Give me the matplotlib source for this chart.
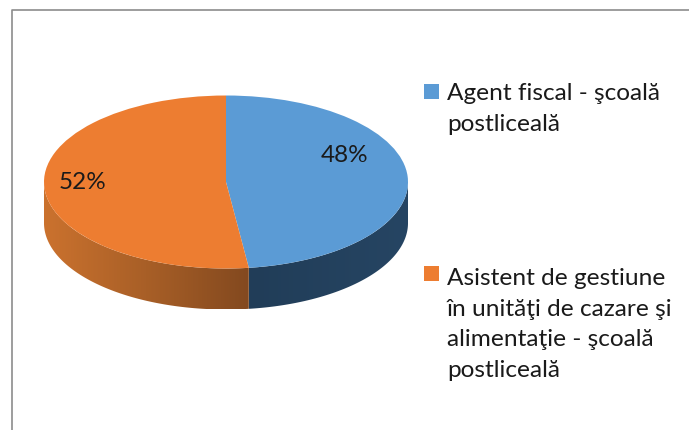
import numpy as np
import matplotlib
matplotlib.use("Agg")
import matplotlib.pyplot as plt
from matplotlib.colors import LinearSegmentedColormap
from matplotlib.patches import Polygon, Rectangle

plt.rcParams['font.family'] = ['Lato', 'DejaVu Sans']

# data
values = [48, 52]
pct_labels = ["48%", "52%"]
legend_labels = ["Agent fiscal - şcoală\npostliceală",
                 "Asistent de gestiune\nîn unităţi de cazare şi\nalimentaţie - şcoală\npostliceală"]
colors = ["#5B9BD5", "#ED7D31"]

W, H = 689, 430
CX, CY, RX, RY = 226, 182, 182, 86.5
DEPTH = 41 / RY


def px(x, y):
    # image pixel -> data position of the pie axes
    return (x - CX) / RX, (CY - y) / RY


fig = plt.figure(figsize=(W / 100, H / 100), dpi=100, facecolor="white")
ax = fig.add_axes([0, 0, 1, 1])

ax.pie(values, colors=colors, startangle=90, counterclock=False, radius=1, center=(0, 0), frame=False)
for w in ax.patches:
    w.set_zorder(3)

# side walls, shaded left to right
boundary = 90 - 360 * values[0] / sum(values)
walls = [(boundary, 0, ["#264563", "#213D58"], "blue"),
         (-180, boundary, ["#CB722E", "#A85F27", "#83491F"], "orange")]
for a0, a1, shades, name in walls:
    t = np.radians(np.linspace(a0, a1, 120))
    xs = np.cos(t)
    ys = np.sin(t)
    poly = np.concatenate([np.column_stack([xs, ys]),
                           np.column_stack([xs[::-1], ys[::-1] - DEPTH])])
    cmap = LinearSegmentedColormap.from_list(name, shades)
    if name == "blue":
        grad = np.linspace(1, 0, 256)[None, :]
    else:
        grad = np.linspace(0, 1, 256)[None, :]
    im = ax.imshow(grad, cmap=cmap, aspect="auto", zorder=2,
                   extent=[xs.min(), xs.max(), -1 - DEPTH, 0.1])
    clip = Polygon(poly, closed=True, transform=ax.transData, facecolor="none", edgecolor="none")
    ax.add_patch(clip)
    im.set_clip_path(clip)

ax.set_aspect("auto")
ax.set_xlim(-CX / RX, (W - CX) / RX)
ax.set_ylim((CY - H) / RY, CY / RY)
ax.axis("off")

# percentage labels
pct_pos = [(345, 156), (83, 182.5)]
for s, (x, y) in zip(pct_labels, pct_pos):
    ax.text(*px(x, y), s, fontsize=17.5, color="#1a1a1a", ha="center", va="center", zorder=5)

# legend
legend_y = [83, 268]
legend_boxes = [(424, 84), (424, 266)]
for lab, c, y0, (bx, by) in zip(legend_labels, colors, legend_y, legend_boxes):
    x0, y1 = px(bx, by)
    ax.add_patch(Rectangle((x0, y1), 15 / RX, -15 / RY, facecolor=c, edgecolor="none", zorder=5))
    ax.text(*px(447, y0), lab, fontsize=17.6, color="#1a1a1a", ha="left", va="top",
            linespacing=1.57, zorder=5)

# chart frame, only the left and top edges are in the crop
ax.plot(*zip(px(12, H), px(12, 10.5), px(W, 10.5)), color="#8c8c8c", lw=1.2, clip_on=False, zorder=6)

fig.savefig("out.png", dpi=100, facecolor="white")
